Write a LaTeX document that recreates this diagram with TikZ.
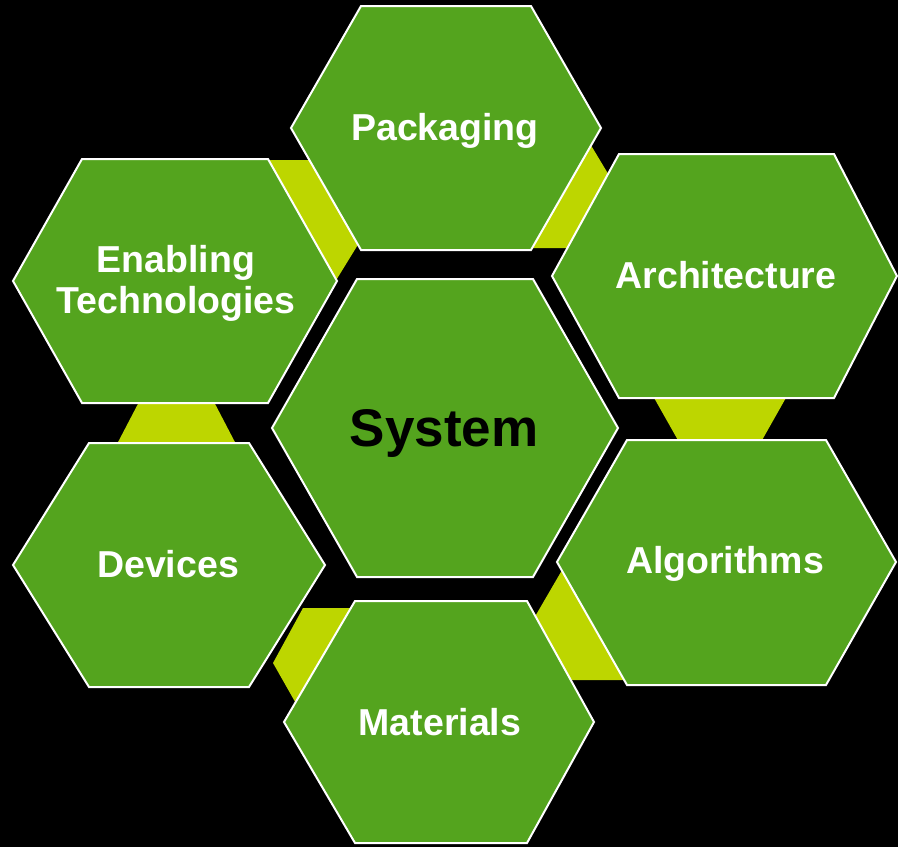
\documentclass[tikz,border=0pt]{standalone}
\usepackage{fontspec}
\setmainfont{Liberation Sans}
\usepackage{xcolor}
\usepackage{tikz}
\usetikzlibrary{positioning,calc}
\definecolor{hexgreen}{RGB}{84,164,30}
\definecolor{bandlime}{RGB}{189,214,0}

\begin{document}
\begin{tikzpicture}[
        x=1pt, y=-1pt,
        hexbox/.style={draw=white, fill=hexgreen, line width=2pt, line join=miter},
        linkband/.style={fill=bandlime},
        hexlabel/.style={text=white, align=center, font=\bfseries\fontsize{37.5}{41}\selectfont},
        corelabel/.style={text=black, font=\bfseries\fontsize{53}{60}\selectfont}
    ]
        \useasboundingbox (0,0) rectangle (898,847);
        \fill[black] (0,0) rectangle (898,847);

        % bands between neighbouring cells
        \fill[linkband] (265,160) -- (312,160) -- (359,243) -- (335,282) -- cycle;
        \fill[linkband] (589,142) -- (610,177) -- (572,248) -- (528,248) -- cycle;
        \fill[linkband] (653,396) -- (787,396) -- (761,442) -- (679,442) -- cycle;
        \fill[linkband] (140,400) -- (213,400) -- (237,446) -- (116,446) -- cycle;
        \fill[linkband] (303,608) -- (357,608) -- (298,707) -- (273,663) -- cycle;
        \fill[linkband] (533,620) -- (565,565) -- (630,680) -- (568,680) -- cycle;

        % cells
        \draw[hexbox] (291,128) -- (361,6) -- (531,6) -- (601,128) -- (531,250) -- (361,250) -- cycle;
        \draw[hexbox] (13,281) -- (82,159) -- (268,159) -- (337,281) -- (268,403) -- (82,403) -- cycle;
        \draw[hexbox] (552,276) -- (619,154) -- (834,154) -- (897,276) -- (834,398) -- (619,398) -- cycle;
        \draw[hexbox] (272,428) -- (357,279) -- (533,279) -- (618,428) -- (533,577) -- (357,577) -- cycle;
        \draw[hexbox] (13,565) -- (89,443) -- (249,443) -- (325,565) -- (249,687) -- (89,687) -- cycle;
        \draw[hexbox] (557,562) -- (627,440) -- (826,440) -- (896,562) -- (826,685) -- (627,685) -- cycle;
        \draw[hexbox] (284,722) -- (355,601) -- (527,601) -- (594,722) -- (527,843) -- (355,843) -- cycle;

        \node[hexlabel] (packaging) at (445,131) {Packaging};
        \node[hexlabel] (enabling) at (176,283) {Enabling\\Technologies};
        \node[hexlabel] (architecture) at (726,275) {Architecture};
        \node[corelabel] (system) at (444,433) {System};
        \node[hexlabel] (devices) at (168,564) {Devices};
        \node[hexlabel] (algorithms) at (725,564) {Algorithms};
        \node[hexlabel] (materials) at (440,722) {Materials};
    \end{tikzpicture}
\end{document}
